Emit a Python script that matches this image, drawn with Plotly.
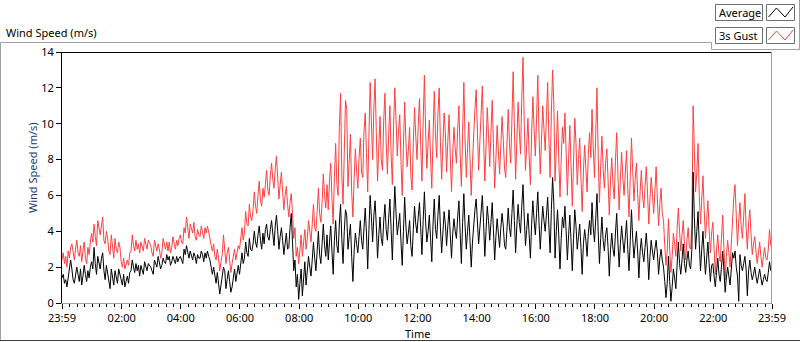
import plotly.graph_objects as go

# ---------------- data (2.5-minute samples, one row per hour) ----------------
sample_minutes = 2.5  # minutes between samples, first sample at 23:59

gust_by_hour = [
    [2.4, 2.8, 2.2, 2.6, 2.0, 2.9, 2.5, 3.1, 3.3, 2.7, 2.4, 3.0,
     3.5, 2.8, 2.6, 3.2, 2.3, 2.9, 3.4, 2.5, 2.2, 3.1, 2.7, 3.4],
    [3.9, 3.4, 4.4, 3.7, 3.2, 4.6, 4.1, 3.8, 4.3, 4.8, 3.5, 3.3,
     4.0, 3.6, 2.9, 2.7, 3.8, 3.2, 2.5, 3.6, 3.0, 2.8, 3.4, 3.1],
    [2.3, 2.0, 2.5, 1.9, 2.2, 2.4, 2.1, 2.8, 2.9, 3.8, 3.2, 2.9,
     3.5, 3.0, 3.3, 2.8, 3.4, 3.1, 2.9, 3.6, 3.2, 3.0, 3.5, 3.3],
    [3.2, 2.8, 2.6, 3.5, 3.1, 2.9, 3.3, 3.0, 2.5, 2.8, 3.6, 3.2,
     3.0, 3.4, 2.9, 3.4, 2.8, 3.1, 3.7, 3.3, 3.0, 3.5, 3.2, 3.6],
    [3.8, 3.4, 3.3, 4.2, 3.9, 4.8, 4.0, 3.6, 4.4, 4.1, 3.9, 4.5,
     3.7, 3.5, 4.1, 3.8, 3.7, 4.3, 4.0, 3.6, 4.2, 3.9, 4.3, 3.8],
    [3.6, 3.2, 2.9, 3.3, 2.6, 2.4, 3.0, 2.5, 1.8, 2.3, 2.7, 3.8,
     3.1, 2.2, 2.8, 3.1, 2.4, 1.7, 2.2, 2.6, 3.0, 2.4, 2.8, 3.2],
    [3.0, 3.6, 4.2, 3.5, 3.9, 5.1, 4.4, 4.3, 5.5, 4.8, 4.6, 5.2,
     6.2, 5.4, 5.0, 6.0, 6.8, 5.7, 5.4, 6.4, 5.9, 6.6, 7.4, 6.3],
    [6.0, 7.1, 7.8, 6.9, 6.4, 7.5, 8.2, 7.0, 5.8, 6.6, 7.3, 6.2,
     5.2, 6.0, 6.5, 5.5, 4.8, 5.6, 6.1, 5.0, 3.6, 4.2, 2.6, 3.1],
    [2.2, 2.9, 3.8, 2.6, 3.2, 4.1, 3.0, 3.6, 4.6, 3.9, 3.4, 4.4,
     5.5, 4.2, 4.0, 5.1, 6.4, 5.0, 4.5, 5.6, 7.2, 6.0, 5.3, 6.6],
    [5.2, 6.8, 7.8, 5.9, 4.4, 7.0, 8.9, 6.6, 6.0, 9.8, 11.7, 7.2,
     5.5, 8.4, 11.3, 10.8, 6.5, 7.9, 9.4, 6.2, 4.8, 6.9, 8.6, 7.4],
    [6.4, 8.1, 9.2, 7.3, 7.0, 9.6, 10.6, 8.4, 6.2, 9.3, 12.3, 10.1,
     8.0, 10.9, 12.5, 9.5, 6.8, 8.7, 10.4, 8.0, 7.4, 10.2, 11.7, 9.0],
    [7.2, 9.4, 11.0, 8.3, 6.6, 9.9, 12.0, 10.2, 8.2, 9.6, 10.5, 7.9,
     6.0, 8.8, 11.2, 9.0, 7.6, 8.5, 9.8, 7.1, 6.3, 8.9, 10.9, 9.3],
    [8.0, 9.9, 11.4, 8.8, 6.8, 10.1, 12.7, 9.6, 7.5, 8.9, 10.2, 8.1,
     6.4, 9.2, 11.8, 9.4, 8.1, 10.6, 12.0, 9.0, 6.9, 8.8, 10.6, 9.5],
    [7.3, 9.0, 10.5, 8.2, 6.2, 8.4, 9.8, 8.6, 7.8, 9.7, 11.0, 8.3,
     6.5, 9.5, 12.3, 9.1, 7.0, 8.6, 10.1, 8.0, 6.0, 7.9, 9.7, 10.8],
    [11.9, 9.2, 7.4, 9.0, 10.6, 12.1, 9.3, 6.8, 8.7, 10.9, 9.4, 7.6,
     9.5, 11.3, 8.9, 6.4, 8.0, 9.9, 8.5, 7.2, 8.8, 10.4, 9.1, 7.5],
    [7.0, 9.1, 10.8, 8.9, 7.8, 10.2, 12.9, 9.8, 6.9, 9.0, 11.2, 9.6,
     8.3, 11.4, 13.7, 10.0, 7.4, 8.8, 10.3, 8.2, 6.6, 9.4, 11.5, 9.7],
    [8.2, 10.3, 12.7, 9.4, 7.2, 9.1, 11.0, 9.7, 8.5, 10.4, 12.3, 9.2,
     7.0, 10.6, 13.0, 11.1, 6.8, 8.6, 10.7, 8.1, 5.9, 8.0, 9.8, 8.9],
    [10.6, 8.4, 6.0, 8.1, 9.9, 7.6, 5.4, 7.9, 10.3, 8.9, 6.6, 8.0,
     9.2, 7.0, 5.1, 7.3, 8.8, 7.5, 6.2, 8.3, 9.5, 8.1, 10.8, 8.6],
    [7.0, 9.4, 12.0, 8.2, 5.6, 7.6, 9.3, 7.5, 6.4, 7.8, 8.6, 6.9,
     4.9, 6.8, 8.1, 6.6, 5.8, 7.9, 9.5, 7.2, 5.2, 6.9, 8.4, 7.0],
    [6.0, 7.3, 8.5, 6.4, 4.8, 7.0, 9.2, 7.4, 5.7, 6.9, 7.8, 6.1,
     4.6, 6.2, 7.4, 6.0, 5.3, 6.5, 7.6, 6.2, 4.4, 5.8, 7.0, 6.1],
    [5.0, 6.2, 7.6, 5.8, 4.3, 5.5, 6.4, 5.0, 4.6, 3.2, 2.1, 2.9,
     4.7, 3.0, 1.7, 2.6, 3.9, 3.3, 2.6, 4.1, 5.3, 4.0, 2.9, 3.8],
    [4.6, 3.3, 2.4, 3.5, 4.2, 3.1, 3.0, 4.4, 11.0, 8.6, 6.2, 7.3,
     8.9, 6.0, 4.4, 5.8, 7.1, 5.2, 3.6, 4.6, 5.7, 4.1, 2.8, 3.9],
    [4.5, 3.0, 1.6, 2.9, 3.8, 2.7, 2.3, 3.6, 4.9, 3.1, 1.3, 2.6,
     3.5, 2.8, 2.0, 3.3, 5.0, 5.9, 6.6, 4.4, 3.2, 4.5, 5.6, 4.3],
    [3.6, 4.8, 6.1, 4.2, 3.0, 4.4, 5.2, 3.8, 2.7, 3.3, 3.7, 2.9,
     2.2, 2.8, 3.4, 2.6, 2.0, 2.6, 3.1, 2.5, 2.4, 3.0, 4.1, 3.2],
]

average_by_hour = [
    [1.4, 1.6, 1.1, 1.3, 0.9, 1.5, 1.8, 2.4, 1.9, 1.3, 1.1, 1.7,
     2.0, 1.6, 1.2, 1.9, 1.0, 1.5, 2.1, 1.6, 1.2, 1.8, 1.4, 2.0],
    [2.3, 1.9, 3.1, 2.2, 1.6, 2.6, 2.3, 1.9, 2.5, 2.8, 1.8, 1.3,
     2.1, 1.7, 1.2, 0.8, 1.9, 1.5, 1.0, 1.8, 1.3, 1.1, 1.9, 1.6],
    [1.3, 1.0, 1.6, 0.9, 1.2, 1.5, 1.1, 1.7, 1.8, 2.4, 2.0, 1.7,
     2.2, 1.8, 2.1, 1.5, 2.1, 1.9, 1.6, 2.3, 2.0, 1.8, 2.2, 2.1],
    [2.0, 1.8, 1.6, 2.4, 2.2, 2.0, 2.6, 2.3, 1.9, 2.1, 2.5, 2.3,
     2.2, 2.7, 2.4, 2.6, 2.1, 2.3, 2.6, 2.4, 2.2, 2.6, 2.3, 2.5],
    [2.6, 2.4, 2.2, 3.0, 2.7, 3.2, 2.9, 2.5, 2.9, 2.7, 2.4, 2.8,
     2.6, 2.2, 2.7, 2.5, 2.5, 2.9, 2.7, 2.3, 2.8, 2.5, 2.9, 2.6],
    [2.4, 2.0, 1.6, 2.0, 1.5, 1.1, 1.7, 1.2, 0.5, 1.0, 1.4, 2.0,
     1.8, 0.8, 1.3, 1.8, 1.2, 0.6, 0.9, 1.5, 1.9, 1.2, 1.7, 2.1],
    [1.6, 2.3, 2.8, 2.2, 2.5, 3.4, 2.8, 2.6, 3.6, 3.0, 2.9, 3.3,
     4.0, 3.4, 3.1, 3.8, 4.3, 3.5, 3.0, 3.9, 3.3, 4.1, 4.4, 3.7],
    [3.5, 4.1, 4.6, 3.9, 3.2, 4.3, 4.9, 4.0, 3.0, 3.7, 4.2, 3.5,
     2.7, 3.3, 3.9, 3.0, 3.1, 4.2, 5.0, 3.4, 1.8, 2.4, 0.9, 1.6],
    [0.2, 1.1, 1.9, 0.4, 1.4, 2.3, 1.0, 1.8, 2.6, 2.0, 1.5, 2.4,
     3.4, 2.5, 1.8, 2.9, 4.0, 2.7, 2.2, 3.3, 4.4, 3.2, 2.6, 3.8],
    [2.4, 3.4, 4.3, 2.9, 1.6, 3.5, 4.6, 3.2, 2.8, 4.4, 5.5, 3.6,
     2.2, 4.0, 5.2, 4.9, 3.0, 3.7, 4.4, 2.6, 1.2, 2.9, 3.9, 3.3],
    [2.8, 3.7, 4.6, 3.5, 3.0, 4.2, 5.3, 3.9, 1.9, 4.1, 6.0, 4.8,
     3.4, 4.9, 5.7, 4.3, 2.5, 3.8, 4.8, 3.6, 3.2, 4.6, 5.5, 4.1],
    [3.5, 4.7, 5.8, 4.1, 2.4, 4.6, 6.5, 5.0, 3.8, 4.4, 5.0, 3.4,
     2.1, 4.0, 5.9, 4.3, 3.3, 3.9, 4.6, 3.2, 2.6, 4.1, 5.4, 4.4],
    [3.9, 4.8, 5.6, 4.2, 2.7, 4.6, 6.2, 4.5, 3.4, 4.0, 4.9, 3.6,
     2.3, 4.4, 5.8, 4.1, 3.6, 4.9, 6.0, 4.2, 2.8, 3.9, 5.1, 4.4],
    [3.2, 4.3, 5.2, 3.8, 2.5, 3.9, 4.7, 4.0, 3.6, 4.8, 5.7, 3.9,
     2.2, 4.5, 6.1, 4.3, 3.0, 4.0, 4.9, 3.5, 2.0, 3.4, 4.5, 5.2],
    [5.8, 4.4, 3.3, 4.2, 5.1, 6.0, 4.5, 2.6, 4.0, 5.4, 4.6, 3.5,
     4.5, 5.6, 4.1, 2.4, 3.7, 4.7, 3.9, 3.1, 4.2, 5.0, 4.3, 3.2],
    [3.0, 4.4, 5.3, 4.2, 3.7, 5.0, 6.3, 4.6, 2.8, 4.3, 5.5, 4.5,
     3.9, 5.4, 6.6, 4.8, 3.2, 4.1, 5.0, 3.8, 2.5, 4.4, 5.7, 4.6],
    [3.8, 5.0, 6.2, 4.5, 3.0, 4.3, 5.4, 4.6, 4.0, 4.9, 5.9, 4.3,
     2.8, 5.2, 7.0, 5.6, 2.5, 4.0, 5.2, 3.8, 1.9, 3.6, 4.8, 4.2],
    [5.4, 4.0, 2.4, 3.8, 4.9, 3.4, 1.8, 3.6, 5.2, 4.3, 3.0, 3.7,
     4.4, 3.1, 1.6, 3.3, 4.1, 3.5, 2.6, 3.9, 4.6, 3.8, 5.6, 4.2],
    [3.4, 4.7, 6.1, 4.0, 2.2, 3.6, 4.8, 3.5, 2.9, 3.8, 4.2, 3.1,
     1.5, 3.0, 3.9, 3.0, 2.6, 3.9, 5.0, 3.4, 2.0, 3.3, 4.3, 3.5],
    [2.8, 3.7, 4.6, 3.0, 1.8, 3.5, 5.2, 3.6, 2.5, 3.3, 4.0, 2.9,
     1.4, 2.9, 3.6, 2.8, 2.3, 3.1, 3.9, 2.9, 1.3, 2.6, 3.5, 2.9],
    [2.4, 3.0, 3.5, 2.8, 1.6, 2.5, 3.0, 2.4, 2.0, 1.2, 0.3, 1.1,
     2.6, 1.2, 0.1, 0.9, 1.9, 1.4, 0.8, 2.1, 3.4, 2.2, 1.6, 2.4],
    [3.3, 2.2, 1.7, 2.4, 2.9, 2.1, 1.9, 3.0, 7.3, 4.8, 3.0, 4.0,
     5.1, 3.3, 1.8, 3.0, 4.0, 2.7, 1.6, 2.5, 3.4, 2.2, 1.2, 2.1],
    [2.2, 1.5, 0.9, 1.7, 2.5, 1.6, 1.2, 2.0, 2.9, 1.8, 0.6, 1.4,
     2.0, 1.5, 1.0, 1.9, 2.8, 2.5, 2.9, 2.0, 1.5, 0.1, 2.7, 2.1],
    [1.8, 2.2, 2.6, 1.9, 0.4, 1.8, 2.4, 1.7, 1.3, 1.6, 2.0, 1.5,
     1.1, 1.5, 1.9, 1.4, 1.0, 1.3, 1.6, 1.3, 1.2, 1.7, 2.3, 1.8],
]

tick_minutes = [0, 121, 241, 361, 481, 601, 721, 841, 961, 1081, 1201, 1321, 1440]
tick_labels = ["23:59", "02:00", "04:00", "06:00", "08:00", "10:00", "12:00",
               "14:00", "16:00", "18:00", "20:00", "22:00", "23:59"]
y_ticks = [0, 2, 4, 6, 8, 10, 12, 14]

series_names = ["Average", "3s Gust"]

gust_ms = [v for row in gust_by_hour for v in row]
average_ms = [v for row in average_by_hour for v in row]
gust_times = [i * sample_minutes for i in range(len(gust_ms))]
average_times = [i * sample_minutes for i in range(len(average_ms))]

# ---------------- figure ----------------
W, H = 800, 342
PL, PR, PT, PB = 62, 772, 52, 303
FONT = "Noto Sans"
GUST_COLOR = "#ff4040"


def px(x):
    return (x - PL) / (PR - PL)


def py(y):
    return (PB - y) / (PB - PT)


fig = go.Figure()
fig.add_trace(go.Scatter(x=gust_times, y=gust_ms, mode="lines", name=series_names[1],
                         line=dict(color=GUST_COLOR, width=1)))
fig.add_trace(go.Scatter(x=average_times, y=average_ms, mode="lines", name=series_names[0],
                         line=dict(color="#000000", width=1)))

fig.update_layout(
    width=W, height=H,
    margin=dict(l=PL, r=W - PR, t=PT, b=H - PB, pad=0),
    paper_bgcolor="white", plot_bgcolor="white",
    showlegend=False,
    font=dict(family=FONT, size=11, color="#000000"),
)

fig.update_xaxes(
    range=[0, 1440], tickmode="array", tickvals=tick_minutes, ticktext=tick_labels,
    showgrid=False, zeroline=False, showline=True, linecolor="#a0a0a0", linewidth=1,
    ticks="outside", ticklen=5, tickcolor="#000000", tickwidth=1,
    tickfont=dict(family=FONT, size=11, color="#000000"),
    minor=dict(tickmode="linear", tick0=1, dtick=15, ticks="outside", ticklen=3,
               tickcolor="#000000", tickwidth=1, showgrid=False),
)
fig.update_yaxes(
    range=[0, 14], tickmode="array", tickvals=y_ticks,
    showgrid=False, zeroline=False, showline=True, linecolor="#000000", linewidth=1,
    ticks="outside", ticklen=5, tickcolor="#000000", tickwidth=1,
    tickfont=dict(family=FONT, size=11, color="#000000"),
)

shapes = []


def seg(x0, y0, x1, y1, color, width=1):
    shapes.append(dict(type="line", xref="paper", yref="paper",
                       x0=px(x0), y0=py(y0), x1=px(x1), y1=py(y1),
                       line=dict(color=color, width=width)))


# outer chart frame
seg(0.5, 42.5, 0.5, 340.5, "#a0a0a0")
seg(0.5, 42.5, 711.5, 42.5, "#a0a0a0")
seg(711.5, 42.5, 711.5, 49.5, "#a0a0a0")
seg(711.5, 49.5, 799.5, 49.5, "#a0a0a0")
seg(799.5, 0, 799.5, 49.5, "#a0a0a0")
seg(0, 340.5, 800, 340.5, "#404040")
# plot area top/right borders
seg(PL, PT + 0.5, PR, PT + 0.5, "#000000")
seg(PR - 0.5, PT, PR - 0.5, PB, "#a0a0a0")


def rect(x0, y0, x1, y1, color):
    shapes.append(dict(type="rect", xref="paper", yref="paper",
                       x0=px(x0), y0=py(y0), x1=px(x1), y1=py(y1),
                       line=dict(color=color, width=1), fillcolor="white"))


# legend boxes
rows = [(4.5, 20.5, "#000000"), (27.5, 43.5, GUST_COLOR)]
for (y0, y1, col) in rows:
    rect(715.5, y0, 762.5, y1, "#6e6e6e")
    rect(766.5, y0, 794.5, y1, "#6e6e6e")
    pts = [(768.5, y1 - 3.5), (776.5, y0 + 3.5), (785, y1 - 3.5), (793, y0 + 2.5)]
    path = "M " + " L ".join(f"{px(a)},{py(b)}" for a, b in pts)
    shapes.append(dict(type="path", xref="paper", yref="paper", path=path,
                       line=dict(color=col, width=1)))

fig.update_layout(shapes=shapes)

annotations = [
    dict(text="Wind Speed (m/s)", x=px(4), y=py(32), xanchor="left", yanchor="middle",
         font=dict(family=FONT, size=11, color="#000000")),
    dict(text="Wind Speed (m/s)", x=px(32), y=py(168), xanchor="center", yanchor="middle",
         textangle=-90, font=dict(family=FONT, size=11, color="#1f3a6e")),
    dict(text="Time", x=px(417), y=py(333), xanchor="center", yanchor="middle",
         font=dict(family=FONT, size=11, color="#000000")),
    dict(text=series_names[0], x=px(717), y=py(12.5), xanchor="left", yanchor="middle",
         font=dict(family=FONT, size=11, color="#000000")),
    dict(text=series_names[1], x=px(717), y=py(35.5), xanchor="left", yanchor="middle",
         font=dict(family=FONT, size=11, color="#000000")),
]
for a in annotations:
    a.update(xref="paper", yref="paper", showarrow=False)
fig.update_layout(annotations=annotations)

fig.write_html("out.html", config={"displayModeBar": False},
               post_script="document.body.style.margin='0';document.body.style.overflow='hidden';")
